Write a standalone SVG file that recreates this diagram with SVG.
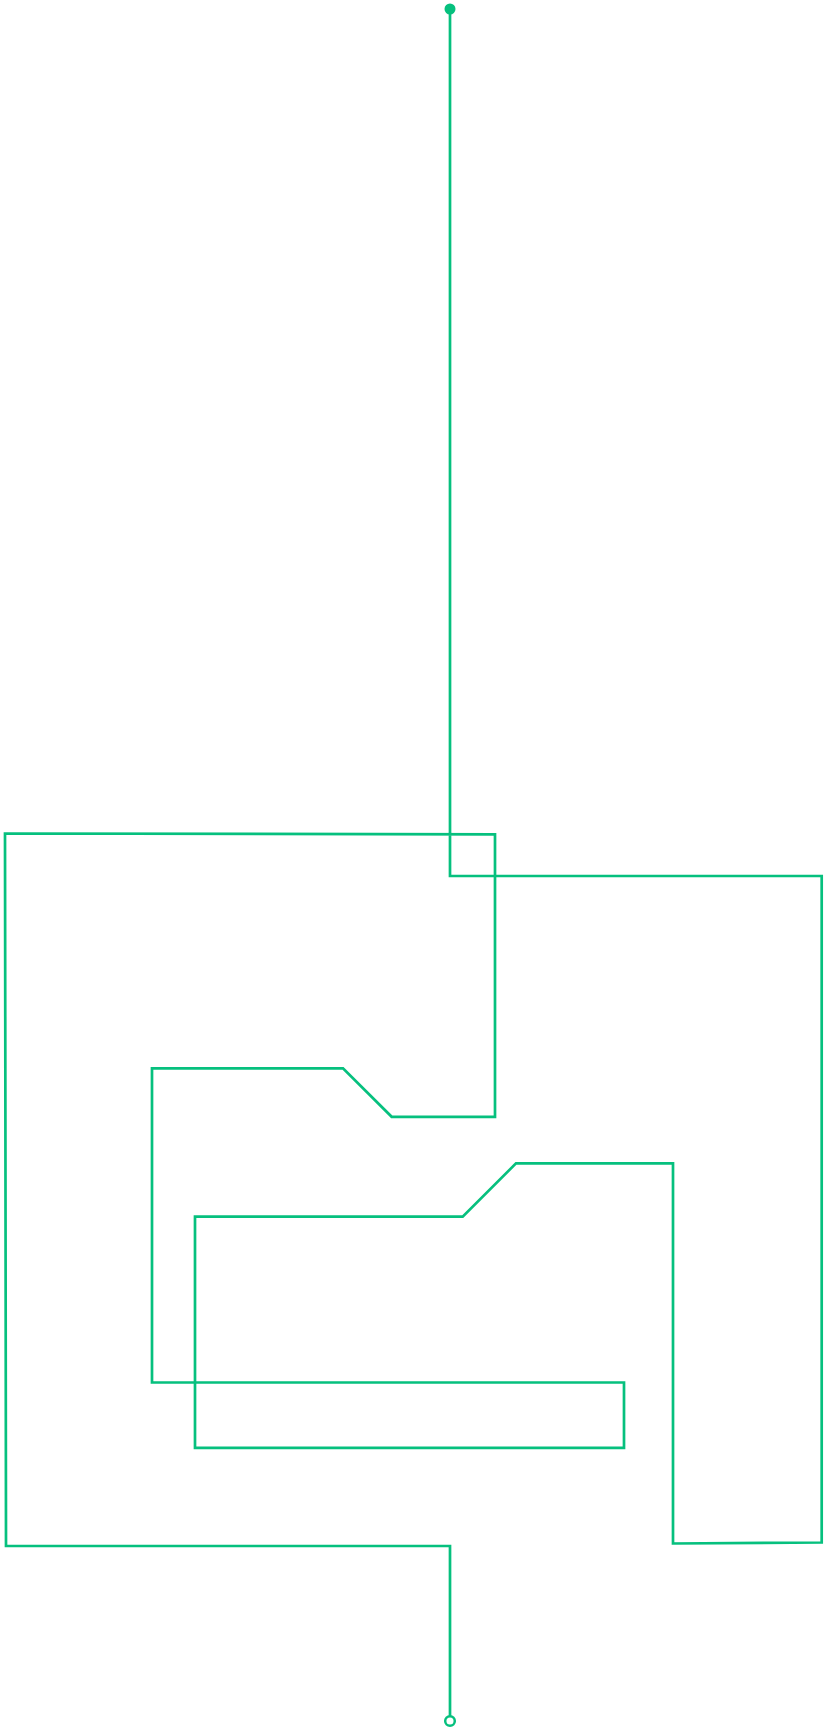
<svg xmlns="http://www.w3.org/2000/svg" width="827" height="1731" viewBox="0 0 827 1731">
  <style>
    .wire { fill: none; stroke: #06C07E; stroke-width: 2.7; stroke-linejoin: miter; stroke-linecap: butt; }
    .dot { fill: #06C07E; }
    .ring { fill: #FFFFFF; stroke: #06C07E; stroke-width: 2.5; }
  </style>
  <rect width="827" height="1731" fill="#FFFFFF"/>
  <g id="connectors">
    <path class="wire" d="M450,9 L450,876 L821.7,876 L821.7,1542.5 L673,1543.5 L673,1163.3 L516,1163.3 L462.7,1216.7 L195,1216.7 L195,1447.8 L624,1447.8 L624,1382.5 L152,1382.5 L152,1068.3 L343,1068.3 L391.7,1116.8 L495,1116.8 L495,834.3 L5,833.5 L6,1546 L450,1546 L450,1716"/>
  </g>
  <g id="start">
    <circle class="dot" cx="450" cy="9" r="5.5"/>
  </g>
  <g id="end">
    <circle class="ring" cx="450" cy="1721" r="4.8"/>
  </g>
</svg>
